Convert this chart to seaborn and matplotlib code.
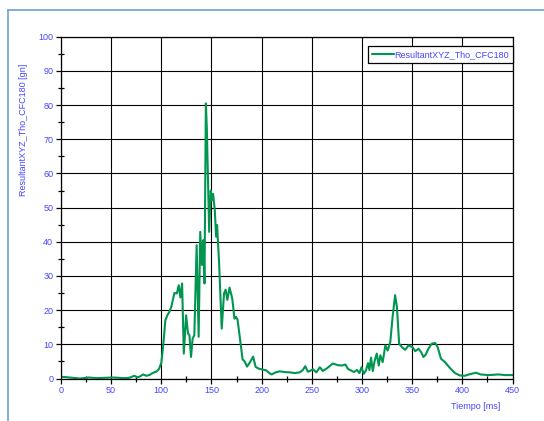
import matplotlib
matplotlib.use("Agg")
import matplotlib.pyplot as plt
from matplotlib.lines import Line2D
from matplotlib.ticker import MultipleLocator
import numpy as np
import pandas as pd
import seaborn as sns

# Resultant thorax acceleration (CFC180) versus time
tiempo_ms = [
    0, 5, 12, 19, 28, 35, 44, 52, 58, 62, 68, 73, 76, 78, 82, 85, 88, 92, 95, 97.7,
    100, 102, 104, 106, 108, 110, 113, 115.5, 117.4, 119, 120.7, 122.4, 124.7, 126.6,
    128, 129.6, 131.2, 132.9, 135.2, 137.2, 138.8, 140.5, 142, 143, 144.4, 145.4,
    147.7, 149.3, 150.3, 151.6, 153.3, 154.6, 155.6, 157.6, 160.2, 162.5, 164.1,
    165.8, 168, 170.7, 172.9, 174.5, 176, 179, 181, 183, 185.5, 188, 191.5, 194,
    197, 201, 204.5, 208, 210, 214, 218, 223, 228, 233, 238, 241, 243.5, 246, 248,
    251, 254.5, 258, 261, 266, 271, 276, 280, 283.5, 286, 288.6, 292, 295, 297.5,
    299.5, 301.8, 304, 306, 307.4, 309, 310.7, 312.7, 314.7, 316.7, 318.3, 320.6,
    323.3, 325.6, 328.2, 330.5, 333, 334.8, 337, 339.8, 343, 346.4, 350.3, 353,
    356.3, 359, 361.2, 363.5, 366.2, 369.5, 372.8, 375.4, 378.7, 382.7, 387.6,
    392.6, 397.5, 402.5, 406.6, 413.6, 418, 426, 436, 442.7, 450,
]
resultante_g = [
    0.5, 0.4, 0.2, 0.0, 0.3, 0.1, 0.2, 0.3, 0.2, 0.1, 0.2, 0.8, 0.4, 0.5, 1.2, 0.8, 1.0, 1.7, 2.0, 2.8,
    4.6, 10, 17, 18.5, 19.5, 21, 25, 24.9, 27.3, 23.7, 27.8, 7.3, 18.5, 13.2,
    12.7, 6.3, 11.7, 12.7, 39, 12.2, 42.9, 33.2, 40.5, 27.8, 80.5, 72.7,
    42.9, 55, 52.2, 54, 49.3, 41.5, 44.9, 33.7, 14.6, 24.9, 26,
    23, 26.6, 23.4, 17.5, 18, 17.2, 10.2, 5.6, 5.0, 3.5, 4.6, 6.4, 3.4,
    2.9, 2.6, 2.4, 1.5, 1.2, 1.8, 2.1, 1.9, 1.8, 1.6, 1.8, 2.5, 3.6, 2.0, 2.2,
    2.7, 1.8, 3.3, 2.2, 3.2, 4.4, 3.9, 3.8, 4.1, 2.8, 2.4, 1.9, 2.5, 1.6,
    3.3, 1.4, 2.4, 4.5, 2.5, 6.1, 2.2, 5.3, 7.3, 3.8, 6.8, 4.8,
    9.7, 8.2, 10.7, 18, 24.4, 21, 10.2, 9.2, 8.4, 9.7, 9.2, 8.0,
    8.7, 7.7, 6.3, 7.0, 8.7, 10.2, 10.4, 9.2, 5.8, 4.8, 3.1,
    1.6, 0.9, 0.8, 1.2, 1.7, 1.2, 1.0, 1.2, 1.0, 1.0,
]
serie = "ResultantXYZ_Tho_CFC180"
y_label = "ResultantXYZ_Tho_CFC180 [gn]"
x_label = "Tiempo [ms]"
x_ticks = [0, 50, 100, 150, 200, 250, 300, 350, 400, 450]
y_ticks = [0, 10, 20, 30, 40, 50, 60, 70, 80, 90, 100]

df = pd.DataFrame({"t": tiempo_ms, "g": resultante_g, "serie": serie})

sns.set_theme(style="white")
plt.rcParams["font.family"] = ["Liberation Sans", "DejaVu Sans"]

blue = "#4646ff"
green = "#009650"

fig = plt.figure(figsize=(5.44, 4.21), dpi=100)
ax = fig.add_axes([0.1121, 0.1009, 0.8300, 0.8119])

sns.lineplot(data=df, x="t", y="g", hue="serie", palette=[green],
             linewidth=1.5, ax=ax, sort=False)

ax.set_xlim(0, 450)
ax.set_ylim(0, 100)
ax.set_xticks(x_ticks)
ax.set_yticks(y_ticks)
ax.xaxis.set_minor_locator(MultipleLocator(25))
ax.yaxis.set_minor_locator(MultipleLocator(5))

ax.grid(True, which="major", color="black", linewidth=0.8)
ax.set_axisbelow(True)
for s in ax.spines.values():
    s.set_color("black")
    s.set_linewidth(0.9)

ax.tick_params(which="major", direction="out", length=3.6, width=0.9,
               color="black", labelcolor=blue, labelsize=6.5, pad=2)
ax.tick_params(which="minor", direction="inout", length=4.5, width=0.9,
               color="black")
ax.tick_params(axis="x", which="both", bottom=True, top=False)
ax.tick_params(axis="y", which="both", left=True, right=False)

ax.set_xlabel(x_label, color=blue, fontsize=6.5)
ax.xaxis.set_label_coords(0.919, -0.070)
ax.set_ylabel(y_label, color=blue, fontsize=6.5)
ax.yaxis.set_label_coords(-0.072, 0.727)

leg = ax.legend(loc="upper right", bbox_to_anchor=(1.0, 0.972), borderaxespad=0,
                fontsize=6.5, frameon=True, fancybox=False, handlelength=2.4,
                handletextpad=0.0, borderpad=0.45)
frame = leg.get_frame()
frame.set_edgecolor("black")
frame.set_linewidth(0.9)
frame.set_facecolor("white")
frame.set_alpha(1)
for txt in leg.get_texts():
    txt.set_color(blue)

# light blue panel border along top and left
W, H = 544, 421
fig.add_artist(Line2D([8 / W, 1.0], [1 - 10 / H, 1 - 10 / H],
                      transform=fig.transFigure, color="#6aa3d6", linewidth=1.2))
fig.add_artist(Line2D([8 / W, 8 / W], [0.0, 1 - 10 / H],
                      transform=fig.transFigure, color="#6aa3d6", linewidth=1.2))

fig.savefig("out.png", dpi=100)
